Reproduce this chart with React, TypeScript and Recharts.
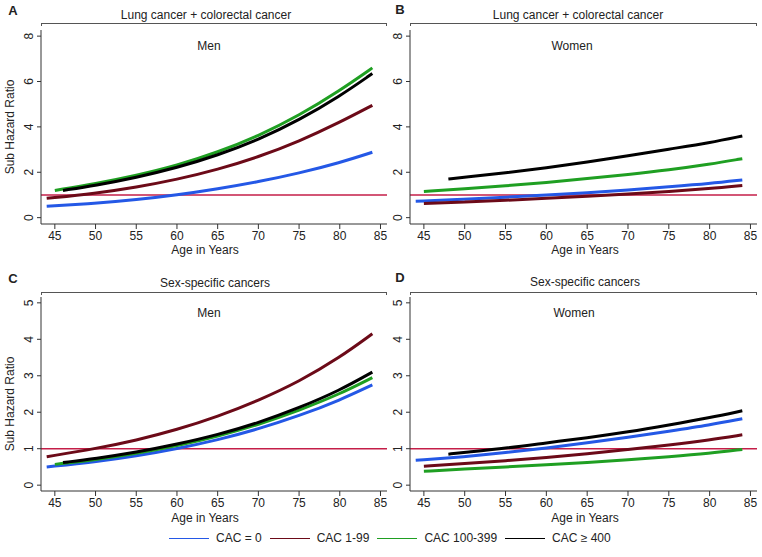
import React from 'react';
import { LineChart, Line, XAxis, YAxis, ReferenceLine } from 'recharts';

const FONT = '"Liberation Sans", Arial, Helvetica, sans-serif';

const ageTicks = [45, 50, 55, 60, 65, 70, 75, 80, 85];
const ticksLung = [0, 2, 4, 6, 8];
const ticksSex = [0, 1, 2, 3, 4, 5];

const seriesNames = ['CAC = 0', 'CAC 1-99', 'CAC 100-399', 'CAC \u2265 400'];
const seriesColors = ['#2458e6', '#6c0a18', '#1f9f22', '#000000'];

// [age, sub hazard ratio]
const lungMenCac0 = [[44, 0.5], [50, 0.63], [55, 0.79], [60, 1.0], [65, 1.27], [70, 1.58], [75, 1.96], [80, 2.42], [84, 2.88]];
const lungMenCac1 = [[44, 0.85], [50, 1.07], [55, 1.34], [60, 1.68], [65, 2.12], [70, 2.67], [75, 3.36], [80, 4.2], [84, 4.95]];
const lungMenCac100 = [[45, 1.2], [50, 1.5], [55, 1.86], [60, 2.3], [65, 2.88], [70, 3.6], [75, 4.5], [80, 5.6], [84, 6.6]];
const lungMenCac400 = [[46, 1.2], [50, 1.42], [55, 1.77], [60, 2.2], [65, 2.75], [70, 3.43], [75, 4.3], [80, 5.35], [84, 6.35]];

const lungWomenCac0 = [[44, 0.72], [50, 0.81], [55, 0.9], [60, 0.99], [65, 1.1], [70, 1.22], [75, 1.36], [80, 1.5], [84, 1.66]];
const lungWomenCac1 = [[45, 0.62], [50, 0.69], [55, 0.76], [60, 0.85], [65, 0.94], [70, 1.04], [75, 1.15], [80, 1.28], [84, 1.42]];
const lungWomenCac100 = [[45, 1.15], [50, 1.27], [55, 1.4], [60, 1.55], [65, 1.72], [70, 1.9], [75, 2.1], [80, 2.35], [84, 2.6]];
const lungWomenCac400 = [[48, 1.7], [50, 1.78], [55, 1.97], [60, 2.2], [65, 2.45], [70, 2.72], [75, 3.02], [80, 3.3], [84, 3.6]];

const sexMenCac0 = [[44, 0.5], [50, 0.64], [55, 0.8], [60, 1.0], [65, 1.24], [70, 1.54], [75, 1.9], [80, 2.33], [84, 2.75]];
const sexMenCac1 = [[44, 0.78], [50, 1.0], [55, 1.23], [60, 1.52], [65, 1.88], [70, 2.32], [75, 2.84], [80, 3.5], [84, 4.15]];
const sexMenCac100 = [[45, 0.57], [50, 0.7], [55, 0.87], [60, 1.08], [65, 1.34], [70, 1.66], [75, 2.05], [80, 2.5], [84, 2.95]];
const sexMenCac400 = [[46, 0.62], [50, 0.73], [55, 0.9], [60, 1.12], [65, 1.38], [70, 1.71], [75, 2.12], [80, 2.6], [84, 3.1]];

const sexWomenCac0 = [[44, 0.68], [50, 0.78], [55, 0.89], [60, 1.02], [65, 1.16], [70, 1.31], [75, 1.48], [80, 1.65], [84, 1.82]];
const sexWomenCac1 = [[45, 0.52], [50, 0.59], [55, 0.67], [60, 0.76], [65, 0.86], [70, 0.98], [75, 1.1], [80, 1.24], [84, 1.38]];
const sexWomenCac100 = [[45, 0.38], [50, 0.44], [55, 0.5], [60, 0.56], [65, 0.62], [70, 0.7], [75, 0.78], [80, 0.87], [84, 0.98]];
const sexWomenCac400 = [[48, 0.85], [50, 0.9], [55, 1.01], [60, 1.16], [65, 1.3], [70, 1.46], [75, 1.65], [80, 1.85], [84, 2.04]];

const toRows = (arr: number[][]) => arr.map(([age, v]) => ({ age, v }));

const AXIS = '#333';
const REF = '#c41e48';

const YTick = (props: any) => {
  const { x, y, payload } = props;
  const cx = x - 6;
  return (
    <text
      x={cx}
      y={y}
      textAnchor="middle"
      dominantBaseline="central"
      transform={`rotate(-90, ${cx}, ${y})`}
      fontSize={12}
      fontFamily={FONT}
      fill="#222"
    >
      {payload.value}
    </text>
  );
};

type PanelProps = {
  left: number;
  top: number;
  width: number;
  marginRight: number;
  series: number[][][];
  yDomain: [number, number];
  yTicks: number[];
};

const Panel = ({ left, top, width, marginRight, series, yDomain, yTicks }: PanelProps) => (
  <div style={{ position: 'absolute', left, top }}>
    <LineChart
      width={width}
      height={262}
      margin={{ top: 30, right: marginRight, bottom: 8, left: 11 }}
    >
      <XAxis
        type="number"
        dataKey="age"
        domain={[43.3, 85.8]}
        ticks={ageTicks}
        allowDataOverflow
        height={30}
        tickSize={5}
        stroke={AXIS}
        tick={{ fontSize: 12, fontFamily: FONT, fill: '#222' }}
        interval={0}
      />
      <YAxis
        type="number"
        domain={yDomain}
        ticks={yTicks}
        allowDataOverflow
        width={30}
        tickSize={4}
        stroke={AXIS}
        tick={<YTick />}
        interval={0}
      />
      <ReferenceLine y={1} stroke={REF} strokeWidth={1.6} ifOverflow="visible" />
      {series.map((s, i) => (
        <Line
          key={seriesNames[i]}
          data={toRows(s)}
          dataKey="v"
          type="basis"
          stroke={seriesColors[i]}
          strokeWidth={3}
          dot={false}
          activeDot={false}
          isAnimationActive={false}
          name={seriesNames[i]}
        />
      ))}
    </LineChart>
  </div>
);

const Txt = ({ cx, cy, children, size = 12, bold = false }: any) => (
  <div
    style={{
      position: 'absolute',
      left: cx - 150,
      top: cy - 8,
      width: 300,
      height: 16,
      lineHeight: '16px',
      textAlign: 'center',
      fontSize: size,
      fontWeight: bold ? 700 : 400,
      fontFamily: FONT,
      color: '#222',
      whiteSpace: 'nowrap',
    }}
  >
    {children}
  </div>
);

const Bracket = ({ x1, x2, y }: any) => (
  <div
    style={{
      position: 'absolute',
      left: x1,
      top: y,
      width: x2 - x1,
      height: 3,
      borderTop: '1px solid #555',
      borderLeft: '1px solid #555',
      borderRight: '1px solid #555',
      boxSizing: 'border-box',
    }}
  />
);

const YLabel = ({ cx, cy }: any) => (
  <div
    style={{
      position: 'absolute',
      left: cx - 60,
      top: cy - 8,
      width: 120,
      height: 16,
      lineHeight: '16px',
      textAlign: 'center',
      fontSize: 12,
      fontFamily: FONT,
      color: '#222',
      transform: 'rotate(-90deg)',
      whiteSpace: 'nowrap',
    }}
  >
    Sub Hazard Ratio
  </div>
);

export default function App() {
  return (
    <div
      style={{
        position: 'absolute',
        left: 0,
        top: 0,
        width: 762,
        height: 557,
        background: '#fff',
        overflow: 'hidden',
        fontFamily: FONT,
      }}
    >
      <Panel left={0} top={0} width={395} marginRight={8}
        series={[lungMenCac0, lungMenCac1, lungMenCac100, lungMenCac400]}
        yDomain={[-0.28, 8.27]} yTicks={ticksLung} />
      <Panel left={369} top={0} width={393} marginRight={5}
        series={[lungWomenCac0, lungWomenCac1, lungWomenCac100, lungWomenCac400]}
        yDomain={[-0.28, 8.27]} yTicks={ticksLung} />
      <Panel left={0} top={267} width={395} marginRight={8}
        series={[sexMenCac0, sexMenCac1, sexMenCac100, sexMenCac400]}
        yDomain={[-0.16, 5.16]} yTicks={ticksSex} />
      <Panel left={369} top={267} width={393} marginRight={5}
        series={[sexWomenCac0, sexWomenCac1, sexWomenCac100, sexWomenCac400]}
        yDomain={[-0.16, 5.16]} yTicks={ticksSex} />

      <Txt cx={13} cy={11} size={13} bold>A</Txt>
      <Txt cx={400} cy={10} size={13} bold>B</Txt>
      <Txt cx={13} cy={279} size={13} bold>C</Txt>
      <Txt cx={400} cy={278} size={13} bold>D</Txt>

      <Bracket x1={41} x2={387} y={23} />
      <Bracket x1={410} x2={757} y={23} />
      <Bracket x1={41} x2={387} y={292} />
      <Bracket x1={410} x2={757} y={292} />

      <Txt cx={206} cy={15}>Lung cancer + colorectal cancer</Txt>
      <Txt cx={578} cy={15}>Lung cancer + colorectal cancer</Txt>
      <Txt cx={215} cy={283}>Sex-specific cancers</Txt>
      <Txt cx={585} cy={282}>Sex-specific cancers</Txt>

      <Txt cx={209} cy={46}>Men</Txt>
      <Txt cx={572} cy={46}>Women</Txt>
      <Txt cx={209} cy={313}>Men</Txt>
      <Txt cx={574} cy={313}>Women</Txt>

      <Txt cx={205} cy={250}>Age in Years</Txt>
      <Txt cx={585} cy={250}>Age in Years</Txt>
      <Txt cx={205} cy={518}>Age in Years</Txt>
      <Txt cx={585} cy={518}>Age in Years</Txt>

      <YLabel cx={10} cy={127} />
      <YLabel cx={10} cy={404} />

      <div
        style={{
          position: 'absolute',
          left: 169,
          top: 530,
          height: 16,
          display: 'flex',
          alignItems: 'center',
          fontSize: 12,
          fontFamily: FONT,
          color: '#222',
          whiteSpace: 'nowrap',
        }}
      >
        {seriesNames.map((n, i) => (
          <div key={n} style={{ display: 'flex', alignItems: 'center', marginRight: 8 }}>
            <div style={{ width: 40, height: 0, borderTop: `1.5px solid ${seriesColors[i]}`, marginRight: 7 }} />
            <span>{n}</span>
          </div>
        ))}
      </div>
    </div>
  );
}
